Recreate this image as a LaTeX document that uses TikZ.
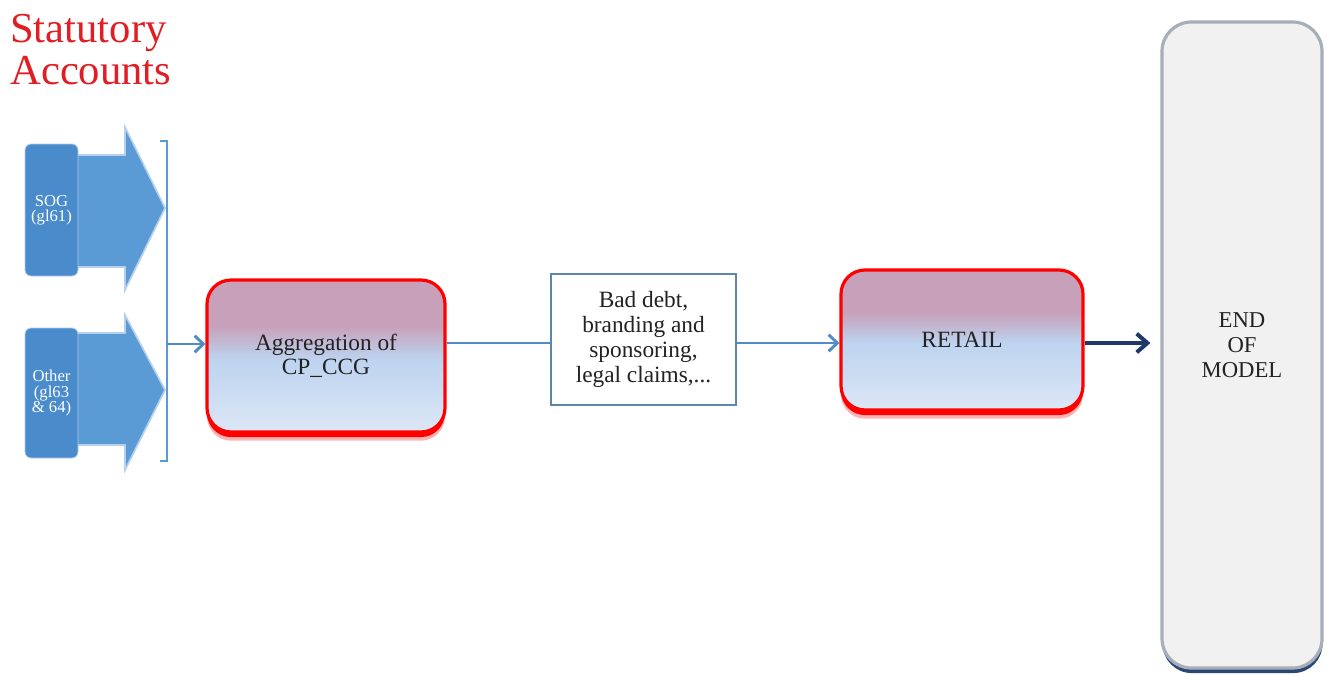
\documentclass[tikz,border=0pt]{standalone}
\usepackage{fontspec}
\setmainfont{Liberation Serif}
\usetikzlibrary{arrows.meta}

\definecolor{stat}{HTML}{E01E24}
\definecolor{flowblue}{HTML}{4F8DC9}
\definecolor{srcblue}{HTML}{5B9BD5}
\definecolor{srcbox}{HTML}{4A8BCB}
\definecolor{halo}{HTML}{B4D0EC}
\definecolor{navyarrow}{HTML}{1F3A68}
\definecolor{pinktop}{HTML}{C7A0B9}
\definecolor{bluemid}{HTML}{BDD3EF}
\definecolor{bluebot}{HTML}{DCE7F6}
\definecolor{endfill}{HTML}{F1F1F1}
\definecolor{enddraw}{HTML}{A7AEB8}
\definecolor{endshadow}{HTML}{2A4778}
\definecolor{notedraw}{HTML}{5F86A8}
\definecolor{txt}{HTML}{222222}

% mauve-to-blue fill of the stage boxes (25bp = bottom, 75bp = top)
\pgfdeclareverticalshading{stageshade}{100bp}{%
  color(0bp)=(bluebot); color(25bp)=(bluebot); color(49bp)=(bluemid);
  color(60bp)=(pinktop); color(75bp)=(pinktop); color(100bp)=(pinktop)}

\tikzset{
  srcbox/.style={rounded corners=4.5pt, fill=srcbox, draw=halo, line width=0.6pt,
    text=white, font=\fontsize{12.5}{11.5}\selectfont, align=center,
    minimum width=39.75pt, inner sep=1pt},
  srcarrow/.style={fill=srcblue, draw=halo, line width=1.2pt, line join=miter},
  stagebox/.style={rounded corners=18pt, draw=red, line width=2.4pt,
    shade, shading=stageshade, text=txt, align=center,
    font=\fontsize{17.5}{18}\selectfont,
    preaction={fill=red, fill opacity=0.3, transform canvas={yshift=-6.5pt}},
    preaction={fill=red, transform canvas={yshift=-3.8pt}}},
  notebox/.style={draw=notedraw, line width=0.9pt, fill=white, text=txt,
    align=center, font=\fontsize{17.5}{18.75}\selectfont},
  endbox/.style={rounded corners=22pt, fill=endfill, draw=enddraw, line width=2.4pt,
    text=txt, align=center, font=\fontsize{17}{18.75}\selectfont,
    preaction={fill=endshadow, transform canvas={yshift=-3.8pt, xshift=0.4pt}}},
  bracketline/.style={draw=srcblue, line width=1pt},
  flow/.style={draw=flowblue, line width=2.2pt},
  flowarrow/.style={flow, -{Straight Barb[length=6.5pt, width=12.5pt]}},
  endarrow/.style={draw=navyarrow, line width=3pt,
    -{Straight Barb[length=8pt, width=14pt]}},
}

\begin{document}
\begin{tikzpicture}[x=0.75pt, y=-0.75pt]
\useasboundingbox (0,0) rectangle (1331,675);

% heading
\node[anchor=north west, inner sep=0pt, text=stat, align=left,
      font=\fontsize{32}{31.5}\selectfont] (title) at (10,14) {Statutory\\Accounts};

% broad source arrows, drawn behind the source boxes
\path[srcarrow] (76,155) -- (125,155) -- (125,127) -- (165,208) -- (125,290)
  -- (125,267) -- (76,267) -- cycle;
\path[srcarrow] (76,333) -- (125,333) -- (125,315) -- (165,390) -- (125,470)
  -- (125,445) -- (76,445) -- cycle;

% source boxes
\node[srcbox, minimum height=99pt] (sog) at (51.5,210) {SOG\\(gl61)};
\node[srcbox, minimum height=97.5pt] (other) at (51.5,393) {Other\\(gl63\\\& 64)};

% bracket gathering both sources
\draw[bracketline] (160,141) -- (167,141) -- (167,461) -- (160,461);
\coordinate (brk) at (167,344);
\coordinate (lvl) at (0,343);

% process stages
\node[stagebox, minimum width=178.5pt, minimum height=114pt] (agg) at (326,356)
  {Aggregation of\\CP\_CCG};
\node[notebox, minimum width=138.75pt, minimum height=98.25pt] (bad) at (643.5,339.5)
  {Bad debt,\\branding and\\sponsoring,\\legal claims,...};
\node[stagebox, minimum width=181.5pt, minimum height=105pt] (retail) at (962,340)
  {RETAIL};
\node[endbox, minimum width=120pt, minimum height=484.5pt] (end) at (1242,345)
  {END\\OF\\MODEL};

% connectors
\draw[flowarrow] (brk) -- (brk -| agg.west);
\draw[flow] (agg.east |- lvl) -- (bad.west |- lvl);
\draw[flowarrow] (bad.east |- lvl) -- (retail.west |- lvl);
\draw[endarrow] (retail.east |- lvl) -- ([xshift=-7.5pt]end.west |- lvl);
\end{tikzpicture}
\end{document}
